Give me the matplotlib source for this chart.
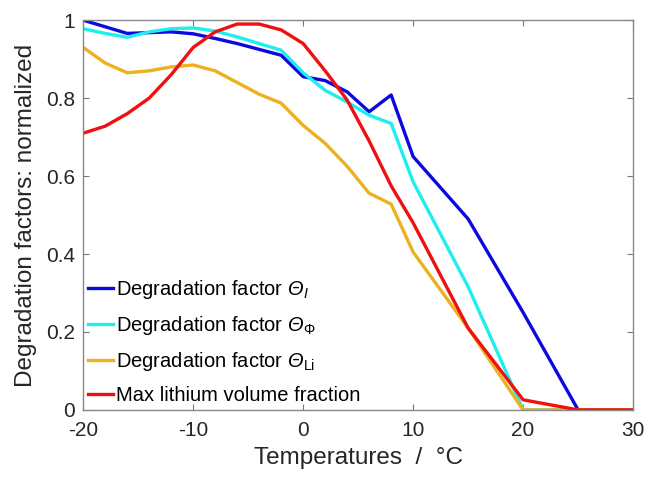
import numpy as np
import matplotlib.pyplot as plt

plt.rcParams['font.family'] = ['Liberation Sans', 'DejaVu Sans']
plt.rcParams['mathtext.fontset'] = 'custom'
plt.rcParams['mathtext.rm'] = 'Liberation Sans'
plt.rcParams['mathtext.it'] = 'Liberation Sans:italic'
plt.rcParams['mathtext.sf'] = 'Liberation Sans:italic'  # italic Greek via \mathsf
plt.rcParams['axes.unicode_minus'] = False

# temperature grid (°C)
temps = [-20, -18, -16, -14, -12, -10, -8, -6, -4, -2, 0, 2, 4, 6, 8, 10, 15, 20, 25, 30]

theta_I = [1.0, 0.983, 0.966, 0.968, 0.97, 0.965, 0.953, 0.94, 0.925, 0.91,
           0.855, 0.845, 0.816, 0.765, 0.808, 0.65, 0.49, 0.25, 0.0, 0.0]
theta_phi = [0.978, 0.966, 0.956, 0.97, 0.978, 0.98, 0.972, 0.957, 0.94, 0.923,
             0.865, 0.82, 0.79, 0.756, 0.735, 0.585, 0.316, 0.0, 0.0, 0.0]
theta_li = [0.93, 0.89, 0.865, 0.87, 0.88, 0.885, 0.87, 0.84, 0.81, 0.787,
            0.73, 0.684, 0.625, 0.556, 0.528, 0.405, 0.21, 0.0, 0.0, 0.0]
max_li = [0.71, 0.728, 0.76, 0.80, 0.86, 0.93, 0.97, 0.99, 0.99, 0.975,
          0.94, 0.87, 0.795, 0.69, 0.575, 0.48, 0.21, 0.026, 0.0, 0.0]

labels = [r'Degradation factor $\mathsf{\Theta}_{\mathsf{I}}$',
          r'Degradation factor $\mathsf{\Theta}_{\Phi}$',
          r'Degradation factor $\mathsf{\Theta}_{\mathrm{Li}}$',
          'Max lithium volume fraction']
colors = ['#0A0AE0', '#1EEEF0', '#EDB120', '#F01010']

fig = plt.figure(figsize=(6.5, 4.8), dpi=100)
ax = fig.add_axes([0.128, 0.146, 0.846, 0.812])

for y, c, lab in zip([theta_I, theta_phi, theta_li, max_li], colors, labels):
    ax.plot(temps, y, color=c, lw=2.4, label=lab)

ax.set_xlim(-20, 30)
ax.set_ylim(0, 1)
ax.set_xticks([-20, -10, 0, 10, 20, 30])
ax.set_yticks([0, 0.2, 0.4, 0.6, 0.8, 1])
ax.set_yticklabels(['0', '0.2', '0.4', '0.6', '0.8', '1'])
ax.tick_params(direction='in', top=True, right=True, labelsize=15,
               color='#777777', length=4, width=0.8, labelcolor='#262626')
ax.tick_params(axis='x', pad=8)
ax.tick_params(axis='y', pad=6)
for s in ax.spines.values():
    s.set_color('#888888')
    s.set_linewidth(1.0)

ax.set_xlabel('Temperatures  /  °C', fontsize=17.5, color='#262626', labelpad=5)
ax.set_ylabel('Degradation factors: normalized', fontsize=17.5, color='#262626',
              labelpad=6)

ax.legend(loc='lower left', frameon=False, fontsize=14.5, handlelength=1.25,
          handletextpad=0.15, labelspacing=0.64, borderaxespad=0.0,
          borderpad=0.25, bbox_to_anchor=(0.0, 0.0))

fig.savefig('out.png', dpi=100)
